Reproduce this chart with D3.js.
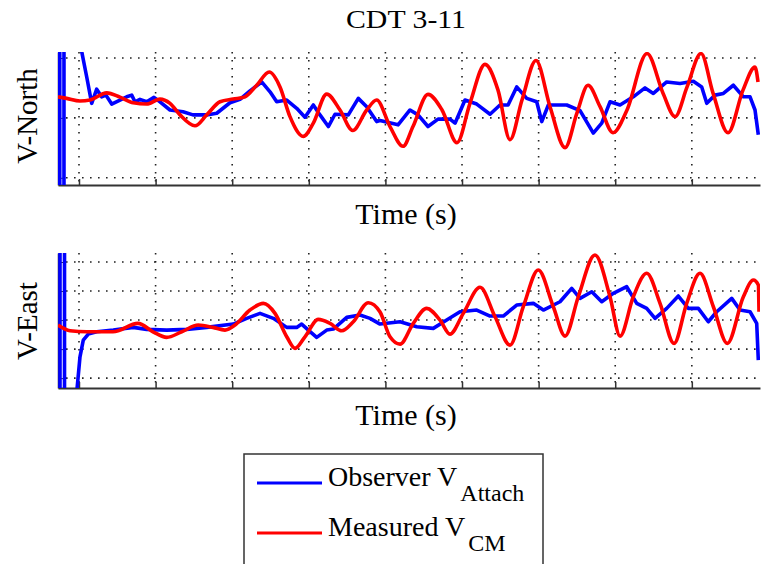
<!DOCTYPE html>
<html lang="en">
<head>
    <meta charset="UTF-8">
    <title>CDT 3-11</title>
    <script src="https://d3js.org/d3.v7.min.js"></script>
    <style>
        body { margin: 0; background: #fff; }
        text { font-family: "Liberation Serif", "Times New Roman", serif; fill: #000; }
    </style>
</head>
<body>
<div id="chart"></div>
<script>
    // grid positions (time in s, no labels shown)
    const timeTicks = [1, 2, 3, 4, 5, 6, 7, 8, 9];
    const northTicks = [-1, 0, 1];
    const eastTicks = [-2, -1, 0, 1, 2];

    const legendMain = ["Observer V", "Measured V"];
    const legendSub = ["Attach", "CM"];

    // V-North, observer (blue)
    const northObsTime = [0.749, 0.749, 0.804, 0.804, 1.020, 1.101, 1.166, 1.231, 1.296, 1.352, 1.427, 1.535, 1.623, 1.688, 1.731, 1.796, 1.884, 1.979, 2.057, 2.188, 2.358, 2.488, 2.667, 2.798, 2.971, 3.102, 3.232, 3.385, 3.494, 3.581, 3.712, 3.842, 3.950, 4.059, 4.146, 4.255, 4.342, 4.516, 4.646, 4.756, 4.886, 4.930, 5.165, 5.321, 5.426, 5.556, 5.687, 5.843, 5.909, 6.039, 6.192, 6.366, 6.496, 6.601, 6.714, 6.845, 6.975, 7.041, 7.127, 7.367, 7.541, 7.714, 7.824, 7.932, 8.063, 8.236, 8.389, 8.498, 8.672, 8.846, 9.020, 9.129, 9.195, 9.303, 9.412, 9.542, 9.673, 9.760, 9.825, 9.868];
    const northObsVel = [20, -20, -20, 20, 1.207, 0.683, 0.243, 0.479, 0.352, 0.380, 0.231, 0.298, 0.352, 0.380, 0.269, 0.309, 0.269, 0.342, 0.269, 0.132, 0.104, 0.050, 0.050, 0.078, 0.253, 0.309, 0.451, 0.600, 0.435, 0.269, 0.298, 0.160, 0.012, 0.215, 0.050, -0.144, 0.061, 0.050, 0.326, 0.187, -0.061, -0.045, -0.116, 0.132, 0.050, -0.144, -0.021, -0.021, -0.088, 0.298, 0.231, 0.061, 0.215, 0.215, 0.517, 0.326, 0.269, -0.061, 0.215, 0.215, 0.121, -0.253, -0.088, 0.269, 0.215, 0.352, 0.501, 0.408, 0.600, 0.574, 0.612, 0.517, 0.243, 0.380, 0.408, 0.545, 0.352, 0.352, 0.132, -0.281];

    // V-North, measured (red)
    const northMeasTime = [0.726, 0.839, 1.013, 1.144, 1.362, 1.535, 1.709, 1.884, 2.057, 2.188, 2.319, 2.514, 2.667, 2.841, 3.014, 3.167, 3.320, 3.484, 3.624, 3.754, 3.928, 4.059, 4.234, 4.407, 4.573, 4.756, 4.886, 5.060, 5.230, 5.360, 5.556, 5.739, 5.935, 6.105, 6.300, 6.470, 6.627, 6.783, 6.966, 7.149, 7.345, 7.501, 7.645, 7.802, 7.971, 8.154, 8.415, 8.624, 8.781, 8.938, 9.120, 9.277, 9.473, 9.668, 9.825, 9.864];
    const northMeasVel = [0.352, 0.326, 0.281, 0.298, 0.418, 0.347, 0.253, 0.231, 0.314, 0.243, 0.050, -0.132, 0.050, 0.269, 0.314, 0.352, 0.545, 0.765, 0.517, 0.021, -0.309, -0.088, 0.397, 0.132, -0.210, 0.132, 0.298, -0.144, -0.474, -0.144, 0.392, 0.132, -0.413, 0.248, 0.893, 0.463, -0.364, 0.298, 0.959, 0.187, -0.496, 0.083, 0.545, 0.187, -0.248, 0.132, 1.074, 0.413, 0.021, 0.517, 1.074, 0.413, -0.248, 0.463, 0.848, 0.600];

    // V-East, observer (blue)
    const eastObsTime = [0.752, 0.752, 0.811, 0.811, 0.961, 1.013, 1.056, 1.121, 1.231, 1.448, 1.709, 1.884, 2.145, 2.406, 2.667, 3.014, 3.189, 3.363, 3.537, 3.712, 3.842, 3.907, 3.994, 4.103, 4.234, 4.320, 4.495, 4.668, 4.799, 4.930, 5.191, 5.409, 5.625, 5.800, 5.974, 6.192, 6.366, 6.539, 6.714, 6.931, 7.062, 7.279, 7.432, 7.541, 7.694, 7.824, 7.975, 8.150, 8.281, 8.411, 8.520, 8.672, 8.824, 8.954, 9.085, 9.215, 9.325, 9.521, 9.629, 9.760, 9.847, 9.868];
    const eastObsVel = [-20, 20, 20, -20, -2.76, -1.266, -0.690, -0.483, -0.403, -0.345, -0.252, -0.321, -0.345, -0.321, -0.252, -0.138, 0.059, 0.231, 0.059, -0.252, -0.252, -0.138, -0.345, -0.597, -0.345, -0.310, 0.093, 0.172, 0.059, -0.138, -0.059, -0.231, -0.286, 0, 0.286, 0.345, 0.138, 0.138, 0.517, 0.576, 0.345, 0.631, 1.093, 0.748, 0.976, 0.631, 0.921, 1.148, 0.576, 0.403, 0.059, 0.403, 0.828, 0.403, 0.403, -0.059, 0.286, 0.748, 0.345, 0.286, -0.114, -1.379];

    // V-East, measured (red)
    const eastMeasTime = [0.726, 0.883, 1.101, 1.444, 1.770, 1.966, 2.145, 2.341, 2.557, 2.749, 2.906, 3.037, 3.232, 3.406, 3.559, 3.712, 3.820, 3.950, 4.124, 4.277, 4.430, 4.581, 4.777, 4.930, 5.060, 5.191, 5.364, 5.539, 5.713, 5.843, 6.017, 6.235, 6.431, 6.627, 6.800, 6.996, 7.192, 7.345, 7.518, 7.736, 7.932, 8.063, 8.236, 8.411, 8.585, 8.768, 8.933, 9.107, 9.281, 9.464, 9.673, 9.803, 9.868, 9.877];
    const eastMeasVel = [-0.172, -0.369, -0.403, -0.403, -0.114, -0.403, -0.597, -0.403, -0.172, -0.252, -0.345, -0.172, 0.345, 0.576, 0.231, -0.576, -0.976, -0.576, 0.024, -0.114, -0.369, -0.059, 0.597, 0.276, -0.576, -0.828, -0.114, 0.403, 0, -0.483, 0.231, 1.128, 0.114, -0.862, 0.459, 1.724, 0.459, -0.552, 0.803, 2.241, 0.803, -0.552, 0.803, 1.610, 0.576, -0.803, 0.576, 1.610, 0.459, -0.803, 0.803, 1.379, 1.207, 0.286];

    const width = 763, height = 564;
    const left = 58, right = 760;

    const svg = d3.select("#chart").append("svg")
        .attr("width", width)
        .attr("height", height);

    const x = d3.scaleLinear().domain([0.726, 9.89]).range([left, right]);

    const panels = [
        { id: "north", label: "V-North", top: 52, bottom: 185, domain: [-1.12, 1.1], ticks: northTicks,
          obsT: northObsTime, obsV: northObsVel, measT: northMeasTime, measV: northMeasVel, labelY: 116, xlabelY: 224 },
        { id: "east", label: "V-East", top: 253, bottom: 388, domain: [-2.34, 2.31], ticks: eastTicks,
          obsT: eastObsTime, obsV: eastObsVel, measT: eastMeasTime, measV: eastMeasVel, labelY: 321, xlabelY: 425 }
    ];

    panels.forEach(p => {
        const y = d3.scaleLinear().domain(p.domain).range([p.bottom, p.top]);
        const g = svg.append("g");

        g.append("clipPath").attr("id", "clip-" + p.id)
            .append("rect")
            .attr("x", left).attr("y", p.top)
            .attr("width", right - left).attr("height", p.bottom - p.top);

        // dotted grid
        g.selectAll(".vgrid").data(timeTicks).enter().append("line")
            .attr("x1", d => x(d)).attr("x2", d => x(d))
            .attr("y1", p.top).attr("y2", p.bottom)
            .attr("stroke", "#222").attr("stroke-width", 1.6)
            .attr("stroke-dasharray", "1.6 6.4");
        g.selectAll(".hgrid").data(p.ticks).enter().append("line")
            .attr("x1", left).attr("x2", right - 2)
            .attr("y1", d => y(d)).attr("y2", d => y(d))
            .attr("stroke", "#222").attr("stroke-width", 1.6)
            .attr("stroke-dasharray", "1.6 6.4");

        // axes, ticks point inwards
        const xAxis = g.append("g")
            .attr("transform", `translate(0,${p.bottom})`)
            .call(d3.axisBottom(x).tickValues(timeTicks).tickSize(-6).tickSizeOuter(0).tickFormat(""));
        xAxis.select(".domain").attr("stroke", "#333").attr("stroke-width", 2);
        xAxis.selectAll(".tick line").attr("stroke", "#333").attr("stroke-width", 1.5);

        const yAxis = g.append("g")
            .attr("transform", `translate(${left},0)`)
            .call(d3.axisLeft(y).tickValues(p.ticks).tickSize(-5).tickSizeOuter(0).tickFormat(""));
        yAxis.select(".domain").attr("stroke", "#333").attr("stroke-width", 1.5);
        yAxis.selectAll(".tick line").attr("stroke", "#333");

        const plot = g.append("g").attr("clip-path", `url(#clip-${p.id})`);

        const obsLine = d3.line().x(d => x(d[0])).y(d => y(d[1]));
        const measLine = d3.line().x(d => x(d[0])).y(d => y(d[1])).curve(d3.curveMonotoneX);

        plot.append("path")
            .datum(d3.zip(p.obsT, p.obsV))
            .attr("d", obsLine)
            .attr("fill", "none").attr("stroke", "#0000ff")
            .attr("stroke-width", 3.6).attr("stroke-linejoin", "round");

        plot.append("path")
            .datum(d3.zip(p.measT, p.measV))
            .attr("d", measLine)
            .attr("fill", "none").attr("stroke", "#ff0000")
            .attr("stroke-width", 3.6).attr("stroke-linejoin", "round");

        // labels
        svg.append("text")
            .attr("transform", `translate(37,${p.labelY}) rotate(-90)`)
            .attr("text-anchor", "middle")
            .style("font-size", "29px")
            .text(p.label);

        svg.append("text")
            .attr("x", 406).attr("y", p.xlabelY)
            .attr("text-anchor", "middle")
            .style("font-size", "30px")
            .text("Time (s)");
    });

    svg.append("text")
        .attr("x", 406).attr("y", 28)
        .attr("text-anchor", "middle")
        .attr("textLength", 120)
        .attr("lengthAdjust", "spacingAndGlyphs")
        .style("font-size", "26px")
        .text("CDT 3-11");

    // legend
    const legend = svg.append("g");
    legend.append("rect")
        .attr("x", 244).attr("y", 454)
        .attr("width", 299).attr("height", 130)
        .attr("fill", "#fff").attr("stroke", "#333").attr("stroke-width", 1.5);

    const legendColors = ["#0000ff", "#ff0000"];
    legendMain.forEach((m, i) => {
        const yy = 483 + i * 50;
        legend.append("line")
            .attr("x1", 257).attr("x2", 322)
            .attr("y1", yy).attr("y2", yy)
            .attr("stroke", legendColors[i]).attr("stroke-width", 3);
        const t = legend.append("text")
            .attr("x", 328).attr("y", yy + 3)
            .style("font-size", "28px");
        t.append("tspan").text(m);
        t.append("tspan").attr("dx", 3).attr("dy", 15).style("font-size", "24px").text(legendSub[i]);
    });
</script>
</body>
</html>
